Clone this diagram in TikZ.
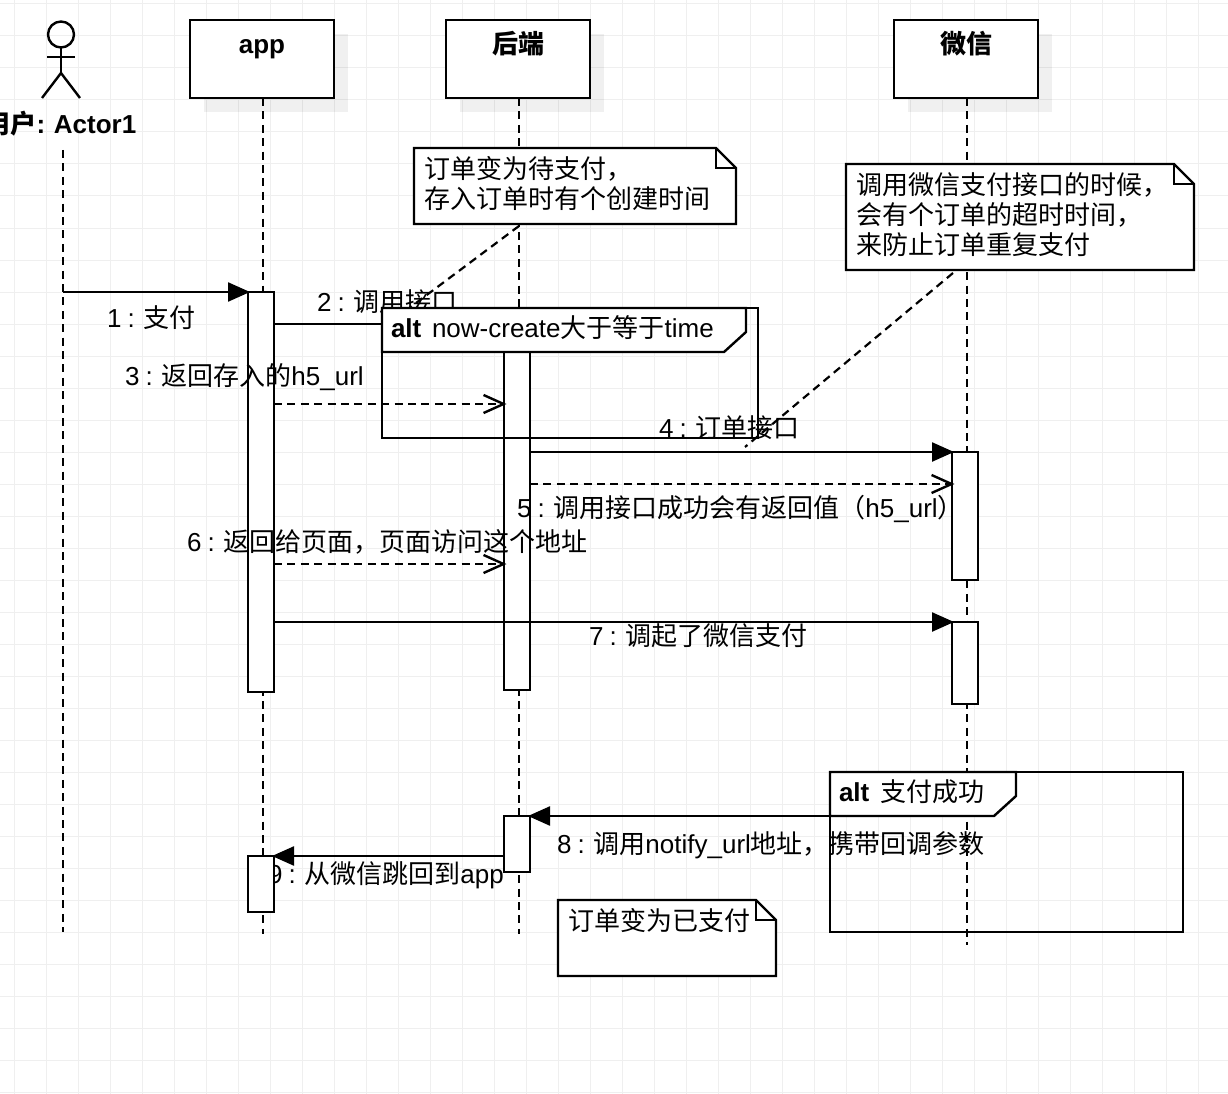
\documentclass[tikz,border=0pt]{standalone}
\usepackage{fontspec}
\setmainfont{Liberation Sans}
\newfontfamily\cjk{Noto Sans CJK SC}
\usetikzlibrary{arrows.meta}
\newcommand{\cn}[1]{{\cjk #1}}
\newcommand{\labelfont}{\fontsize{26}{30}\selectfont\spaceskip=6.2pt\relax}
\definecolor{gridgray}{HTML}{EFEFEF}
\tikzset{
    x=1pt, y=-1pt,
    umlline/.style={line width=2.4pt, draw=black},
    gridline/.style={line width=1pt, draw=gridgray},
    lifeline/.style={umlline, dash pattern=on 8pt off 5.4pt},
    noteline/.style={line width=2.2pt, draw=black, dash pattern=on 8pt off 5.4pt},
    head/.style={rectangle, umlline, fill=white, anchor=north west, inner sep=0,
        outer sep=0, minimum width=144pt, minimum height=78pt},
    headshadow/.style={rectangle, fill=black, fill opacity=0.06, anchor=north west, inner sep=0,
        outer sep=0, minimum width=144pt, minimum height=78pt},
    bar/.style={rectangle, umlline, fill=white, anchor=north west, inner sep=0,
        outer sep=0, minimum width=26pt},
    framebox/.style={rectangle, umlline, anchor=north west, inner sep=0, outer sep=0},
    call/.style={umlline, shorten >=-2pt, -{Triangle[length=22pt,width=19pt]}},
    reply/.style={umlline, shorten >=-2.5pt, dash pattern=on 8pt off 5.4pt,
        -{Straight Barb[length=20pt,width=18pt]}},
    txt/.style={anchor=base west, inner sep=0, outer sep=0, font=\labelfont},
    btxt/.style={txt, font=\labelfont\bfseries},
    notetxt/.style={anchor=north west, align=left, inner sep=0, outer sep=0,
        font=\fontsize{26}{30}\selectfont}
}
\newcommand{\umlnote}[4]{
  \draw [umlline, fill=white] (#1,#2) -- (#3-20,#2) -- (#3,#2+20) -- (#3,#4) -- (#1,#4) -- cycle;
  \draw [umlline] (#3-20,#2) -- (#3-20,#2+20) -- (#3,#2+20);
}
\newcommand{\alttab}[4]{
  \draw [umlline, fill=white] (#1,#2) -- (#3,#2) -- (#3,#2+24) -- (#3-22,#4) -- (#1,#4) -- cycle;
}

\begin{document}
\begin{tikzpicture}
  \useasboundingbox (0,0) rectangle (1228,1094);
  \foreach \gx in {14,46,...,1228} \draw [gridline] (\gx,0) -- (\gx,1094);
  \foreach \gy in {4,36,...,1094} \draw [gridline] (0,\gy) -- (1228,\gy);

  % actor
  \node (actorhead) [circle, umlline, inner sep=0, outer sep=0, minimum size=26pt] at (61,34.5) {};
  \coordinate (armL) at (47,57);
  \coordinate (armR) at (75,57);
  \coordinate (hip) at (61,73);
  \coordinate (footL) at (42,98);
  \coordinate (footR) at (80,98);
  \draw [umlline] (actorhead) -- (hip);
  \draw [umlline] (armL) -- (armR);
  \draw [umlline] (footL) -- (hip) -- (footR);
  \node (actorname) [btxt, anchor=base] at (60.5,133.5) {\cn{用户}: Actor1};

  % heads
  \node (appshadow) [headshadow] at (204,34) {};
  \node (backshadow) [headshadow] at (460,34) {};
  \node (wxshadow) [headshadow] at (908,34) {};
  \node (apphead) [head] at (190,20) {};
  \node (backhead) [head] at (446,20) {};
  \node (wxhead) [head] at (894,20) {};
  \node (applabel) [btxt, anchor=base] at (262,54) {app};
  \node (backlabel) [btxt, anchor=base] at (518,54) {\cn{后端}};
  \node (wxlabel) [btxt, anchor=base] at (966,54) {\cn{微信}};

  % lifelines
  \coordinate (actortop) at (63,150);
  \coordinate (actorend) at (63,932);
  \coordinate (apptop) at (263,98);
  \coordinate (append) at (263,934);
  \coordinate (backtop) at (519,98);
  \coordinate (backend) at (519,934);
  \coordinate (wxtop) at (967,98);
  \coordinate (wxend) at (967,945);
  \draw [lifeline] (actortop) -- (actorend);
  \draw [lifeline] (apptop) -- (append);
  \draw [lifeline] (backtop) -- (backend);
  \draw [lifeline] (wxtop) -- (wxend);

  % activation bars
  \node (app1) [bar, minimum height=400pt] at (248,292) {};
  \node (back1) [bar, minimum height=366pt] at (504,324) {};
  \node (wx1) [bar, minimum height=128pt] at (952,452) {};
  \node (wx2) [bar, minimum height=82pt] at (952,622) {};
  \node (back2) [bar, minimum height=56pt] at (504,816) {};

  % message ends
  \coordinate (m1a) at (63,292);
  \coordinate (m1b) at (248,292);
  \coordinate (m2a) at (274,324);
  \coordinate (m2b) at (504,324);
  \coordinate (m3a) at (274,404);
  \coordinate (m3b) at (504,404);
  \coordinate (m4a) at (530,452);
  \coordinate (m4b) at (952,452);
  \coordinate (m5a) at (530,484);
  \coordinate (m5b) at (952,484);
  \coordinate (m6a) at (274,564);
  \coordinate (m6b) at (504,564);
  \coordinate (m7a) at (274,622);
  \coordinate (m7b) at (952,622);
  \coordinate (m8a) at (967,816);
  \coordinate (m8b) at (530,816);
  \coordinate (m9a) at (504,856);
  \coordinate (m9b) at (274,856);

  \draw [call] (m1a) -- (m1b);
  \draw [umlline] (m2a) -- (m2b);
  \draw [reply] (m3a) -- (m3b);
  \draw [call] (m4a) -- (m4b);
  \draw [reply] (m5a) -- (m5b);
  \draw [reply] (m6a) -- (m6b);
  \draw [call] (m7a) -- (m7b);
  \draw [call] (m8a) -- (m8b);
  \draw [call] (m9a) -- (m9b);

  % message labels
  \node (l1) [txt] at (107,327) {1 : \cn{支付}};
  \node (l2) [txt] at (317,311) {2 : \cn{调用接口}};
  \node (l3) [txt] at (125,385) {3 : \cn{返回存入的}h5\_url};
  \node (l4) [txt] at (659,437) {4 : \cn{订单接口}};
  \node (l5) [txt] at (517,517) {5 : \cn{调用接口成功会有返回值（}h5\_url\cn{）}};
  \node (l6) [txt] at (187,551) {6 : \cn{返回给页面，页面访问这个地址}};
  \node (l7) [txt] at (589,645) {7 : \cn{调起了微信支付}};
  \node (l8) [txt] at (557,853) {8 : \cn{调用}notify\_url\cn{地址，携带回调参数}};
  \node (l9) [txt] at (268,883) {9 : \cn{从微信跳回到}app};
  \node (app2) [bar, minimum height=56pt] at (248,856) {};

  % notes
  \coordinate (n1a) at (519,226);
  \coordinate (n1b) at (404,312);
  \coordinate (n2a) at (953,273);
  \coordinate (n2b) at (745,447);
  \draw [noteline] (n1a) -- (n1b);
  \draw [noteline] (n2a) -- (n2b);
  \umlnote{414}{148}{736}{224}
  \node (note1) [notetxt] at (424,156) {\cn{订单变为待支付，}\\\cn{存入订单时有个创建时间}};
  \umlnote{846}{164}{1194}{270}
  \node (note2) [notetxt] at (856,172.5) {\cn{调用微信支付接口的时候，}\\\cn{会有个订单的超时时间，}\\\cn{来防止订单重复支付}};
  \umlnote{558}{900}{776}{976}
  \node (note3) [notetxt] at (568,908) {\cn{订单变为已支付}};

  % alt frames
  \node (frame1) [framebox, minimum width=376pt, minimum height=130pt] at (382,308) {};
  \alttab{382}{308}{746}{352}
  \node (alt1) [btxt] at (391,337) {alt};
  \node (cond1) [txt] at (432,337) {now-create\cn{大于等于}time};
  \node (frame2) [framebox, minimum width=353pt, minimum height=160pt] at (830,772) {};
  \alttab{830}{772}{1016}{816}
  \node (alt2) [btxt] at (839,801) {alt};
  \node (cond2) [txt] at (880,801) {\cn{支付成功}};
\end{tikzpicture}
\end{document}
